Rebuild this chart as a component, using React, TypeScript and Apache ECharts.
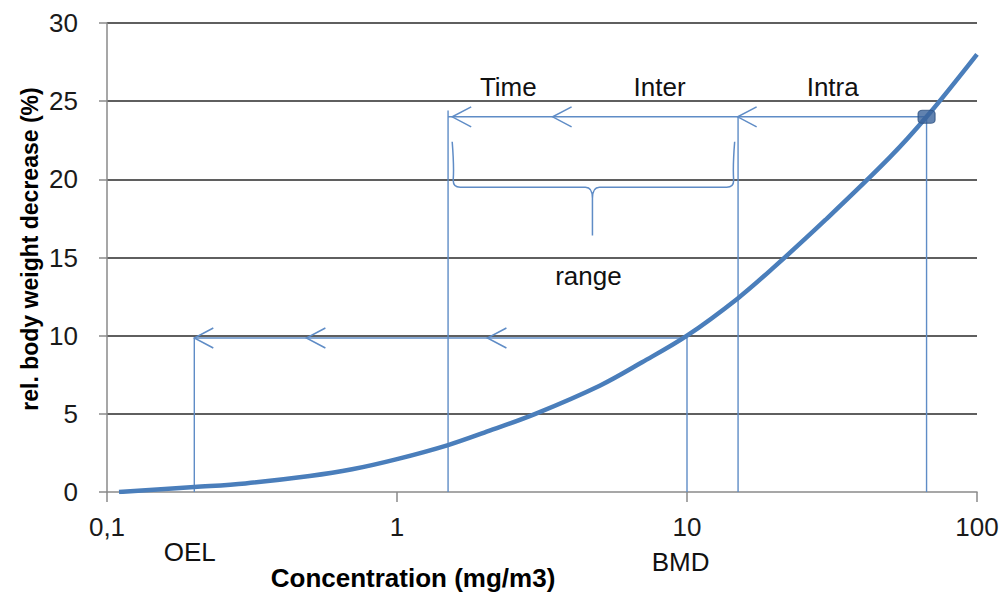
import React, { useEffect, useRef } from "react";
import * as echarts from "echarts";

// Dose-response curve (x: concentration mg/m3, log scale; y: % decrease)
const curveX = [0.11, 0.2, 0.3, 0.5, 0.7, 1, 1.5, 2, 3, 5, 7, 10, 15, 20, 30, 50, 67, 100];
const curveY = [0, 0.32, 0.55, 1.02, 1.45, 2.1, 3.0, 3.8, 5.0, 6.8, 8.3, 10, 12.4, 14.4, 17.4, 21.4, 24, 28];

// Vertical guide lines: x, y from 0 to top
const vLineX = [0.2, 1.5, 10, 15, 67];
const vLineTop = [9.85, 24.4, 9.85, 24, 24];

// Horizontal arrow lines: from x, to x, at y
const hLineFrom = [67, 10];
const hLineTo = [1.5, 0.2];
const hLineY = [24, 9.85];

// Arrow heads (tips), pointing left
const arrowX = [1.55, 3.44, 14.95, 0.2, 0.487, 2.05];
const arrowY = [24, 24, 24, 9.85, 9.85, 9.85];

// Brace: left, middle, right x; top, bar, tip y
const braceX = [1.55, 4.72, 14.6];
const braceY = [22.4, 19.5, 16.4];

// Point marker
const markerPoint = [67, 24];

// Annotation labels
const annoText = ["Time", "Inter", "Intra", "range", "OEL", "BMD"];
const annoX = [2.42, 8.04, 31.8, 4.57, 0.193, 9.5];
const annoY = [25.9, 25.9, 25.9, 13.8, -3.83, -4.47];

const xTitle = "Concentration (mg/m3)";
const yTitle = "rel. body weight decrease (%)";

const FONT = "'Liberation Sans', Arial, sans-serif";
const CURVE = "#4a7ebb";
const THIN = "#5f8cc6";

export default function App() {
  const ref = useRef<HTMLDivElement>(null);
  useEffect(() => {
    const chart = echarts.init(ref.current!, null, { renderer: "svg" });

    const segSeries: any[] = [];
    vLineX.forEach((x, i) => {
      segSeries.push({
        type: "line",
        data: [[x, 0], [x, vLineTop[i]]],
        showSymbol: false,
        lineStyle: { color: THIN, width: 1.4 },
        silent: true,
        z: 3,
      });
    });
    hLineFrom.forEach((x, i) => {
      segSeries.push({
        type: "line",
        data: [[x, hLineY[i]], [hLineTo[i], hLineY[i]]],
        showSymbol: false,
        lineStyle: { color: THIN, width: 1.4 },
        silent: true,
        z: 3,
      });
    });

    const option: any = {
      animation: false,
      backgroundColor: "#ffffff",
      grid: { left: 107, right: 25, top: 23, bottom: 100, containLabel: false, outerBoundsMode: "none" },
      xAxis: {
        type: "log",
        logBase: 10,
        min: 0.1,
        max: 100,
        axisLine: { show: true, lineStyle: { color: "#8a8a8a", width: 1.5 } },
        axisTick: { show: true, length: 10, lineStyle: { color: "#8a8a8a", width: 1.5 } },
        minorTick: { show: false },
        splitLine: { show: false },
        axisLabel: {
          color: "#1a1a1a",
          fontSize: 26,
          fontFamily: FONT,
          margin: 22,
          formatter: (v: number) => String(Number(v.toPrecision(6))).replace(".", ","),
        },
      },
      yAxis: {
        type: "value",
        min: 0,
        max: 30,
        interval: 5,
        axisLine: { show: true, lineStyle: { color: "#8a8a8a", width: 1.5 } },
        axisTick: { show: true, length: 8, lineStyle: { color: "#8a8a8a", width: 1.5 } },
        splitLine: { show: true, showMinLine: false, lineStyle: { color: "#2a2a2a", width: 1.5 } },
        axisLabel: { color: "#1a1a1a", fontSize: 26, fontFamily: FONT, margin: 29 },
      },
      graphic: [
        {
          type: "text",
          x: 413,
          y: 578,
          style: { text: xTitle, fontSize: 26, fontWeight: "bold", fontFamily: FONT, fill: "#000", align: "center", verticalAlign: "middle" },
        },
        {
          type: "text",
          x: 30,
          y: 249,
          rotation: Math.PI / 2,
          style: { text: yTitle, fontSize: 23, fontWeight: "bold", fontFamily: FONT, fill: "#000", align: "center", verticalAlign: "middle" },
        },
      ],
      series: [
        ...segSeries,
        {
          type: "custom",
          coordinateSystem: "cartesian2d",
          data: arrowX.map((x, i) => [x, arrowY[i]]),
          z: 4,
          renderItem: (params: any, api: any) => {
            const p = api.coord([api.value(0), api.value(1)]);
            return {
              type: "polyline",
              shape: { points: [[p[0] + 19, p[1] - 10], [p[0], p[1]], [p[0] + 19, p[1] + 10]] },
              style: { stroke: THIN, lineWidth: 1.5, fill: null },
            };
          },
        },
        {
          type: "custom",
          coordinateSystem: "cartesian2d",
          data: [[braceX[1], braceY[1]]],
          z: 4,
          renderItem: (params: any, api: any) => {
            const xL = api.coord([braceX[0], braceY[0]])[0];
            const xM = api.coord([braceX[1], braceY[0]])[0];
            const xR = api.coord([braceX[2], braceY[0]])[0];
            const yT = api.coord([braceX[0], braceY[0]])[1];
            const yB = api.coord([braceX[0], braceY[1]])[1];
            const yP = api.coord([braceX[0], braceY[2]])[1];
            const r = 7;
            const d =
              `M${xL},${yT} Q${xL + 2},${yB - 20} ${xL + 1},${yB - r} Q${xL + 1},${yB} ${xL + r + 1},${yB} ` +
              `L${xM - r},${yB} Q${xM},${yB} ${xM},${yB + r + 4} L${xM},${yP} ` +
              `M${xM},${yB + r + 4} Q${xM},${yB} ${xM + r},${yB} L${xR - r - 1},${yB} ` +
              `Q${xR - 1},${yB} ${xR - 1},${yB - r} Q${xR - 2},${yB - 20} ${xR},${yT}`;
            return {
              type: "path",
              shape: { pathData: d },
              style: { stroke: THIN, lineWidth: 1.5, fill: null },
            };
          },
        },
        {
          type: "line",
          data: curveX.map((x, i) => [x, curveY[i]]),
          smooth: 0.35,
          showSymbol: false,
          lineStyle: { color: CURVE, width: 4.5 },
          z: 5,
        },
        {
          type: "scatter",
          data: [markerPoint],
          symbol: "roundRect",
          symbolSize: [17, 13],
          itemStyle: { color: "#3a639b", borderColor: "#2d5080", borderWidth: 1 },
          clip: false,
          z: 6,
        },
        {
          type: "custom",
          coordinateSystem: "cartesian2d",
          data: annoX.map((x, i) => [x, annoY[i]]),
          clip: false,
          z: 7,
          renderItem: (params: any, api: any) => {
            const p = api.coord([api.value(0), api.value(1)]);
            return {
              type: "text",
              x: p[0],
              y: p[1],
              style: {
                text: annoText[params.dataIndex],
                fontSize: 26,
                fontFamily: FONT,
                fill: "#111",
                align: "center",
                verticalAlign: "middle",
              },
            };
          },
        },
      ],
    };

    chart.setOption(option);
    return () => chart.dispose();
  }, []);
  return <div ref={ref} style={{ position: "absolute", left: 0, top: 0, width: 1002, height: 592 }} />;
}
